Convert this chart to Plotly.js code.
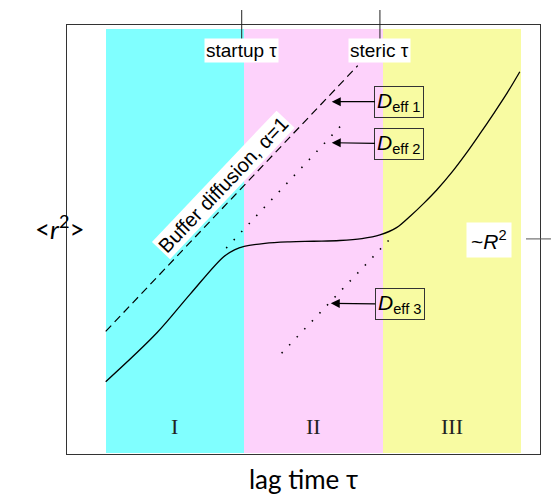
<!DOCTYPE html>
<html><head><meta charset="utf-8">
<script src="https://cdn.plot.ly/plotly-3.0.1.min.js"></script>
<style>html,body{margin:0;padding:0;background:#fff}</style>
</head><body><div id="chart" style="width:551px;height:495px"></div>
<script>
// Regimes (x in decades of lag time, relative)
var regimeNames = ["I", "II", "III"];
var regimeCenters = [0.5, 1.5, 2.5];
var regimeColors = ["#80ffff", "#fdd2fb", "#f8fba2"];
var regimeBottom = 0.007, regimeTop = 2.911;

// Measured MSD curve (schematic, log-log units)
var msdX = [0.0, 0.37, 0.61, 0.85, 0.93, 1.0, 1.15, 1.33, 1.5, 1.69, 1.85, 1.98, 2.1, 2.2, 2.3, 2.39, 2.5, 2.6, 2.7, 2.8, 2.9, 2.99];
var msdY = [0.495, 0.83, 1.095, 1.35, 1.398, 1.422, 1.443, 1.453, 1.457, 1.462, 1.475, 1.50, 1.55, 1.63, 1.72, 1.808, 1.93, 2.055, 2.19, 2.33, 2.475, 2.618];

// Buffer diffusion (alpha = 1)
var bufferX = [0.0, 1.82];
var bufferY = [0.84, 2.66];
// Deff 2 and Deff 3 guide lines
var deff2X = [0.87, 1.70];
var deff2Y = [1.41, 2.25];
var deff3X = [1.27, 2.09];
var deff3Y = [0.69, 1.51];

// Special times
var tauNames = ["startup τ", "steric τ"];
var tauValues = [0.982, 1.98];
var plateauLevel = 1.473;

// Deff labels
var deffLabels = ["<i>D</i><sub>eff 1</sub>", "<i>D</i><sub>eff 2</sub>", "<i>D</i><sub>eff 3</sub>"];
var deffTipX = [1.632, 1.632, 1.625];
var deffTipY = [2.413, 2.132, 1.032];
var deffBoxX = [2.121, 2.121, 2.123];
var deffBoxY = [2.413, 2.125, 1.027];

var helv = "Liberation Sans, Arial, Helvetica, sans-serif";
var gill = "Lato, Open Sans, sans-serif";

var traces = [
  {type: "bar", x: regimeCenters, y: regimeCenters.map(function(){return regimeTop - regimeBottom;}),
   base: regimeBottom, width: 1, marker: {color: regimeColors, line: {width: 0}}, hoverinfo: "skip"},
  {type: "scatter", mode: "lines", x: bufferX, y: bufferY,
   line: {color: "#000", width: 1.2, dash: "8px,5px"}},
  {type: "scatter", mode: "lines", x: deff2X, y: deff2Y,
   line: {color: "#000", width: 1.6, dash: "1.5px,9.5px"}},
  {type: "scatter", mode: "lines", x: deff3X, y: deff3Y,
   line: {color: "#000", width: 1.6, dash: "1.5px,9.5px"}},
  {type: "scatter", mode: "lines", x: msdX, y: msdY,
   line: {color: "#000", width: 1.3, shape: "spline", smoothing: 1}}
];

var annotations = [];
tauNames.forEach(function(n, i){
  annotations.push({x: tauValues[i], y: 2.762, xref: "x", yref: "y", text: n, showarrow: false,
    bgcolor: "#fff", borderpad: 1, font: {family: helv, size: 19, color: "#000"}});
});
regimeNames.forEach(function(n, i){
  annotations.push({x: regimeCenters[i], y: 0.19, xref: "x", yref: "y", text: n, showarrow: false,
    font: {family: "Liberation Serif, Times New Roman, serif", size: 22, color: "#222"}});
});
deffLabels.forEach(function(n, i){
  annotations.push({x: deffTipX[i], y: deffTipY[i], xref: "x", yref: "y",
    ax: deffBoxX[i], ay: deffBoxY[i], axref: "x", ayref: "y", text: n, showarrow: true,
    arrowhead: 2, arrowsize: 1.5, arrowwidth: 1.2, arrowcolor: "#000", standoff: 0,
    bordercolor: "#333", borderwidth: 1, borderpad: 2,
    font: {family: helv, size: 21, color: "#000"}});
});
annotations.push({x: 0.847, y: 1.845, xref: "x", yref: "y", text: "Buffer diffusion, α=1",
  textangle: -46.5, showarrow: false, bgcolor: "#fff", borderpad: 1,
  font: {family: helv, size: 20, color: "#000"}});
annotations.push({x: 2.769, y: 1.466, xref: "x", yref: "y", text: "~<i>R</i><sup>2</sup>",
  showarrow: false, bgcolor: "#fff", borderpad: 4, font: {family: helv, size: 21, color: "#000"}});
annotations.push({x: 33, y: 228, xref: "paper", yref: "paper", text: "&lt;<i>r</i><sup>2</sup>&gt;",
  showarrow: false, font: {family: gill, size: 26, color: "#000"}});

// convert the y-title position from pixels to paper
var L = 67, R = 11, T = 25, B = 41, W = 551, H = 495;
var last = annotations[annotations.length - 1];
last.x = (33 - L) / (W - L - R);
last.y = (H - B - 228) / (H - T - B);

var shapes = [];
tauValues.forEach(function(v){
  shapes.push({type: "line", xref: "x", yref: "paper", ysizemode: "pixel", yanchor: 1,
    x0: v, x1: v, y0: 15, y1: -15, line: {color: "#222", width: 1}, layer: "above"});
});
shapes.push({type: "line", yref: "y", xref: "paper", xsizemode: "pixel", xanchor: 1,
  y0: plateauLevel, y1: plateauLevel, x0: -14, x1: 11, line: {color: "#555", width: 1}});

var layout = {
  width: W, height: H,
  margin: {l: L, r: R, t: T, b: B, pad: 0},
  paper_bgcolor: "#fff", plot_bgcolor: "#fff",
  showlegend: false,
  bargap: 0,
  xaxis: {range: [-0.2794, 3.1357], showgrid: false, zeroline: false, showticklabels: false,
    ticks: "", showline: true, mirror: true, linecolor: "#333", linewidth: 1,
    title: {text: "lag time τ", font: {family: gill, size: 26, color: "#000"}, standoff: 18}},
  yaxis: {range: [0, 2.938], showgrid: false, zeroline: false, showticklabels: false,
    ticks: "", showline: true, mirror: true, linecolor: "#333", linewidth: 1},
  annotations: annotations,
  shapes: shapes
};

Plotly.newPlot("chart", traces, layout, {displayModeBar: false, staticPlot: true});
</script></body></html>
